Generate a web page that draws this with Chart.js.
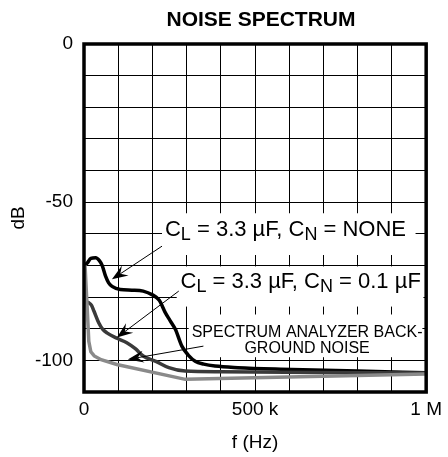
<!DOCTYPE html>
<html>
<head>
<meta charset="utf-8">
<script src="https://cdn.jsdelivr.net/npm/chart.js@4/dist/chart.umd.min.js"></script>
<style>
  html, body { margin: 0; padding: 0; background: #fff; }
  #wrap { width: 448px; height: 457px; }
</style>
</head>
<body>
<div id="wrap"><canvas id="noiseChart" width="448" height="457"></canvas></div>
<script>
// Curva C_L = 3.3 uF, C_N = NONE
const freqNone = [0, 9500, 20000, 34000, 45000, 53000, 63000, 72000, 82000, 106000, 140000, 173000, 200000, 220000, 238000, 252000, 267000, 286000, 306000, 325000, 350000, 383000, 450000, 575000, 800000, 1000000];
const dbNone = [-70, -69.2, -67.8, -67.6, -68.5, -70, -73.4, -75.5, -76.6, -77.6, -77.8, -78.1, -79.3, -81, -85, -87.5, -90.2, -95.5, -98.5, -100.3, -101.2, -101.8, -102.3, -102.8, -103.4, -103.9];

// Curva C_L = 3.3 uF, C_N = 0.1 uF
const freqCn = [8000, 14000, 22000, 29000, 43000, 55000, 67000, 96000, 125000, 150000, 173000, 210000, 248000, 296000, 400000, 700000, 1000000];
const dbCn = [-81.5, -81.8, -82.6, -84.4, -88.1, -90.2, -91.3, -93, -94.4, -96.3, -98.6, -100.3, -102.3, -103.4, -103.6, -103.8, -104];

// Ruido de fondo del analizador
const freqBg = [3000, 10000, 14000, 20000, 30000, 50000, 96000, 296000, 1000000];
const dbBg = [-70, -85, -94, -97.3, -98.6, -99.8, -101.3, -106, -104.3];

const xTickLabels = { 0: '0', 500000: '500 k', 1000000: '1 M' };
const yTickLabels = { 0: '0', '-50': '-50', '-100': '-100' };

// Anotaciones en unidades de datos
const whiteBoxes = [
    { x1: 228000, x2: 969000, y1: -53.5, y2: -66.7 },
    { x1: 271000, x2: 992000, y1: -70.3, y2: -83 },
    { x1: 306000, x2: 989000, y1: -85.5, y2: -99 },
];
const arrows = [
    { from: [228000, -63.9], to: [81600, -74.4] },
    { from: [277000, -78.1], to: [96000, -92.8] },
    { from: [349000, -95.5], to: [128000, -99.7] },
];
const richLabels = [
    { x: 236500, y: -58.8, parts: [['C'], ['L', 1], [' = 3.3 \u00b5F, C'], ['N', 1], [' = NONE']] },
    { x: 282000, y: -75.2, parts: [['C'], ['L', 1], [' = 3.3 \u00b5F, C'], ['N', 1], [' = 0.1 \u00b5F']] },
];
const bgLabelLines = ['SPECTRUM ANALYZER BACK-', 'GROUND NOISE'];
const bgLabelPos = { x: 652000, y: [-91.3, -96.2] };

const FONT = '"Liberation Sans", Arial, sans-serif';

function toPoints(xs, ys) {
    return xs.map((x, i) => ({ x: x, y: ys[i] }));
}

function drawArrow(ctx, x1, y1, x2, y2) {
    const ang = Math.atan2(y2 - y1, x2 - x1);
    const len = 16, half = 6, notch = 10;
    ctx.beginPath();
    ctx.moveTo(x1, y1);
    ctx.lineTo(x2 - Math.cos(ang) * notch, y2 - Math.sin(ang) * notch);
    ctx.lineWidth = 1;
    ctx.strokeStyle = '#000';
    ctx.stroke();
    const bx = x2 - Math.cos(ang) * len, by = y2 - Math.sin(ang) * len;
    const nx = -Math.sin(ang), ny = Math.cos(ang);
    ctx.beginPath();
    ctx.moveTo(x2, y2);
    ctx.lineTo(bx + nx * half, by + ny * half);
    ctx.lineTo(x2 - Math.cos(ang) * notch, y2 - Math.sin(ang) * notch);
    ctx.lineTo(bx - nx * half, by - ny * half);
    ctx.closePath();
    ctx.fillStyle = '#000';
    ctx.fill();
}

const annotationPlugin = {
    id: 'annotations',
    beforeDatasetsDraw(chart) {
        const { ctx, scales: { x, y } } = chart;
        ctx.save();
        ctx.fillStyle = '#fff';
        whiteBoxes.forEach(b => {
            const px1 = x.getPixelForValue(b.x1), px2 = x.getPixelForValue(b.x2);
            const py1 = y.getPixelForValue(b.y1), py2 = y.getPixelForValue(b.y2);
            ctx.fillRect(px1, py1, px2 - px1, py2 - py1);
        });
        ctx.restore();
    },
    afterDatasetsDraw(chart) {
        const { ctx, scales: { x, y } } = chart;
        ctx.save();
        arrows.forEach(a => {
            drawArrow(ctx,
                x.getPixelForValue(a.from[0]), y.getPixelForValue(a.from[1]),
                x.getPixelForValue(a.to[0]), y.getPixelForValue(a.to[1]));
        });

        ctx.fillStyle = '#000';
        ctx.textBaseline = 'middle';
        ctx.textAlign = 'left';
        richLabels.forEach(l => {
            let px = x.getPixelForValue(l.x);
            const py = y.getPixelForValue(l.y);
            l.parts.forEach(([t, sub]) => {
                ctx.font = sub ? '18px ' + FONT : '22px ' + FONT;
                ctx.fillText(t, px, sub ? py + 5 : py);
                px += ctx.measureText(t).width;
            });
        });

        ctx.font = '16px ' + FONT;
        ctx.textAlign = 'center';
        bgLabelLines.forEach((t, i) => {
            ctx.fillText(t, x.getPixelForValue(bgLabelPos.x), y.getPixelForValue(bgLabelPos.y[i]));
        });

        // marco grueso
        const area = chart.chartArea;
        ctx.lineWidth = 3.5;
        ctx.strokeStyle = '#000';
        ctx.strokeRect(area.left, area.top, area.right - area.left, area.bottom - area.top);

        // titulo
        ctx.font = 'bold 21px ' + FONT;
        ctx.textAlign = 'center';
        ctx.fillText('NOISE SPECTRUM', 261, 20);
        ctx.restore();
    }
};

const ctx = document.getElementById('noiseChart').getContext('2d');
new Chart(ctx, {
    type: 'line',
    data: {
        datasets: [
            {
                label: 'Background',
                data: toPoints(freqBg, dbBg),
                borderColor: '#8a8a8a',
                borderWidth: 3.5,
                tension: 0,
                pointRadius: 0,
            },
            {
                label: 'CN = 0.1 uF',
                data: toPoints(freqCn, dbCn),
                borderColor: '#3a3a3a',
                borderWidth: 3.5,
                cubicInterpolationMode: 'monotone',
                pointRadius: 0,
            },
            {
                label: 'CN = NONE',
                data: toPoints(freqNone, dbNone),
                borderColor: '#000',
                borderWidth: 3.5,
                cubicInterpolationMode: 'monotone',
                pointRadius: 0,
            },
        ],
    },
    options: {
        responsive: false,
        animation: false,
        layout: { padding: { top: 44, right: 17, bottom: 0, left: 0 } },
        plugins: {
            legend: { display: false },
            tooltip: { enabled: false },
        },
        scales: {
            x: {
                type: 'linear',
                min: 0,
                max: 1000000,
                afterFit: (s) => { s.height = 65; },
                grid: { color: '#000', lineWidth: 1, drawTicks: false },
                border: { display: false },
                ticks: {
                    stepSize: 100000,
                    autoSkip: false,
                    maxRotation: 0,
                    padding: 6,
                    color: '#000',
                    font: { family: FONT, size: 19 },
                    callback: (v) => xTickLabels[v] || '',
                },
                title: {
                    display: true,
                    text: 'f (Hz)',
                    color: '#000',
                    font: { family: FONT, size: 19 },
                    padding: { top: 0, bottom: 3 },
                },
            },
            y: {
                min: -110,
                max: 0,
                afterFit: (s) => { s.width = 84; },
                grid: { color: '#000', lineWidth: 1, drawTicks: false },
                border: { display: false },
                ticks: {
                    stepSize: 10,
                    autoSkip: false,
                    padding: 11,
                    color: '#000',
                    font: { family: FONT, size: 19 },
                    callback: (v) => yTickLabels[v] || '',
                },
                title: {
                    display: true,
                    text: 'dB',
                    color: '#000',
                    font: { family: FONT, size: 19 },
                    padding: { top: 7, bottom: 0 },
                },
            },
        },
    },
    plugins: [annotationPlugin],
});
</script>
</body>
</html>
